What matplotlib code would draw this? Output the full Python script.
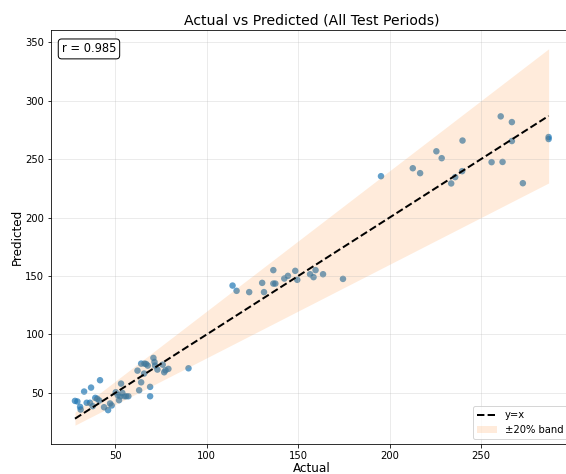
import numpy as np
import matplotlib
matplotlib.use("Agg")
import matplotlib.pyplot as plt

# data
actual = [27.9, 29.2, 30.7, 31.0, 32.9, 34.3, 36.7, 36.1, 37.6, 39.0,
          40.1, 41.6, 41.2, 43.8, 46.0, 47.1, 48.0, 50.2, 51.3, 52.0,
          53.1, 52.6, 53.8, 54.9, 55.9, 57.1, 62.1, 63.0, 64.1, 64.1,
          65.9, 66.8, 67.7, 65.7, 69.0, 69.0, 70.8, 71.4, 73.0, 71.7,
          75.9, 76.7, 77.4, 79.0, 90.0,
          114.1, 116.3, 123.2, 130.3, 131.3, 136.4, 136.4, 137.5, 142.4, 144.4,
          148.4, 149.5, 156.5, 158.4, 159.5, 163.6, 174.5,
          195.3, 212.7, 216.7, 225.6, 228.5, 239.9, 233.7, 235.9, 239.7, 255.8,
          260.8, 261.8, 266.9, 266.9, 272.9, 287.0, 287.0]
predicted = [43.1, 42.6, 38.0, 35.7, 51.1, 41.5, 54.5, 41.5, 38.6, 45.7,
             44.9, 60.8, 43.4, 37.7, 35.2, 40.9, 39.2, 50.5, 48.0, 43.7,
             57.9, 47.1, 50.0, 47.1, 47.1, 47.1, 69.0, 52.2, 59.0, 75.0,
             75.0, 74.7, 73.3, 66.5, 55.1, 47.1, 79.9, 76.4, 69.9, 73.3,
             74.1, 67.6, 69.3, 70.5, 71.0,
             141.8, 137.3, 136.2, 144.1, 136.2, 155.0, 143.5, 143.5, 147.8, 150.1,
             154.4, 146.7, 151.5, 149.0, 155.0, 151.5, 147.5,
             235.4, 242.2, 238.0, 256.7, 250.8, 265.9, 229.2, 234.6, 239.7, 247.4,
             286.6, 247.6, 281.7, 265.5, 229.4, 268.9, 267.2]
r_value = 0.985

actual = np.array(actual)
predicted = np.array(predicted)
line = np.array([actual.min(), actual.max()])

fig = plt.figure(figsize=(566 / 72, 474 / 72), dpi=72)
ax = fig.add_axes([51.3 / 566, 30 / 474, 521 / 566, 414 / 474])

ax.scatter(actual, predicted, s=42, alpha=0.7, color="tab:blue", edgecolors="none")
ax.plot(line, line, "k--", lw=2, label="y=x")
ax.fill_between(line, line * 0.8, line * 1.2, color="tab:orange", alpha=0.15,
                lw=0, label="±20% band")

ax.set_title("Actual vs Predicted (All Test Periods)", fontsize=14)
ax.set_xlabel("Actual", fontsize=12, labelpad=1)
ax.set_ylabel("Predicted", fontsize=12, labelpad=1)
ax.grid(True, alpha=0.3)
ax.legend(loc="lower right", fontsize=10)
ax.text(0.02, 0.97, f"r = {r_value:.3f}", transform=ax.transAxes, fontsize=11.5,
        va="top", bbox=dict(boxstyle="round", facecolor="white", edgecolor="black"))

fig.savefig("out.png", dpi=72)
